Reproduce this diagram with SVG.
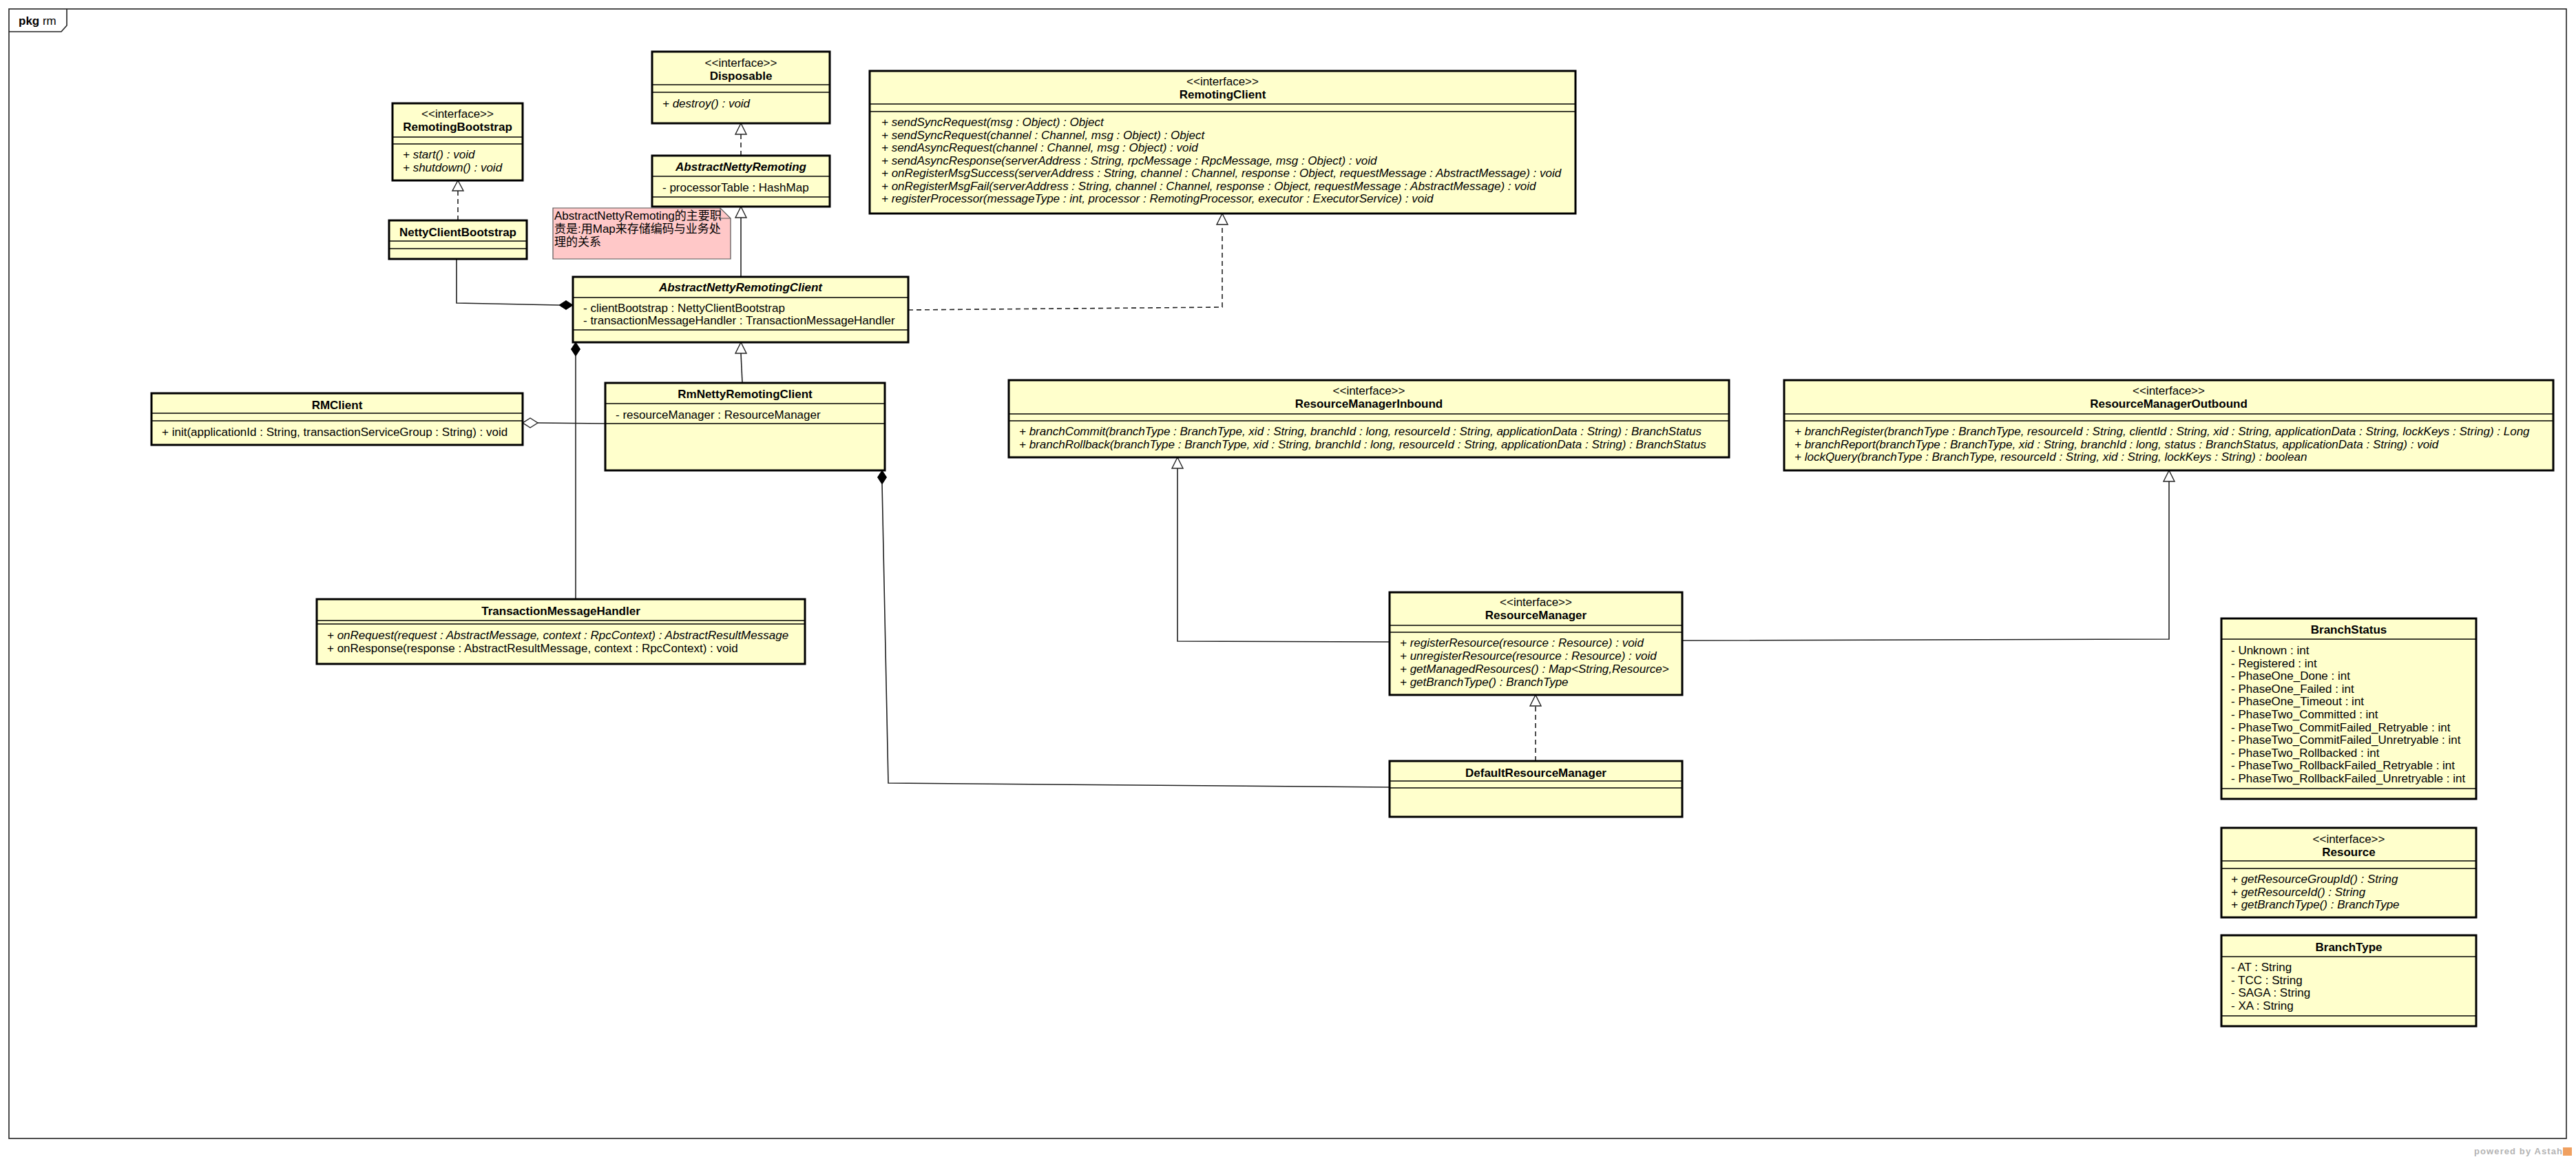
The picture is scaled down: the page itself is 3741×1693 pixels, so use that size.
<svg xmlns="http://www.w3.org/2000/svg" width="3741" height="1693" viewBox="0 0 3741 1693">
<style>
text{font-family:"Liberation Sans","Noto Sans CJK SC",sans-serif;font-size:17px;fill:#000}
.box{fill:#FFFFCC;stroke:#000;stroke-width:3}
.sep{stroke:#000;stroke-width:1.5}
.n{font-weight:bold;text-anchor:middle}
.ni{font-weight:bold;font-style:italic;text-anchor:middle}
.st{text-anchor:middle}
.i{font-style:italic}
.ln{fill:none;stroke:#222;stroke-width:1.6}
.dl{fill:none;stroke:#222;stroke-width:1.6;stroke-dasharray:7 5}
.tri{fill:#fff;stroke:#222;stroke-width:1.4}
.dia{fill:#000;stroke:#000;stroke-width:1}
.hdia{fill:#fff;stroke:#222;stroke-width:1.4}
</style>
<rect width="3741" height="1693" fill="#fff"/>
<g id="frame">
<rect x="13" y="13" width="3714" height="1640" fill="none" stroke="#222" stroke-width="1.6"/>
<path d="M13,46 H89 L97,37 V13" fill="none" stroke="#222" stroke-width="1.6"/>
<text x="27" y="36"><tspan font-weight="bold">pkg</tspan> rm</text>
</g>

<g id="connectors">
<!-- NettyClientBootstrap realizes RemotingBootstrap -->
<path class="dl" d="M665,320 V277"/>
<path class="tri" d="M665,262 L657,277 H673 Z"/>
<!-- AbstractNettyRemoting realizes Disposable -->
<path class="dl" d="M1076,226 V195"/>
<path class="tri" d="M1076,179 L1068,195 H1084 Z"/>
<!-- ANRC extends AbstractNettyRemoting -->
<path class="ln" d="M1076,402 V316"/>
<path class="tri" d="M1076,300 L1068,316 H1084 Z"/>
<!-- RmNetty extends ANRC -->
<path class="ln" d="M1078,556 L1076,513"/>
<path class="tri" d="M1076,497 L1068,513 H1084 Z"/>
<!-- ANRC realizes RemotingClient -->
<path class="dl" d="M1319,450 L1775,446 V326"/>
<path class="tri" d="M1775,310 L1767,326 H1783 Z"/>
<!-- NettyClientBootstrap composition ANRC -->
<path class="ln" d="M663,376 V440 L812,443"/>
<path class="dia" d="M832,443 L822,436.5 L812,443 L822,449.5 Z"/>
<!-- ANRC composition TMH -->
<path class="ln" d="M836,517 V870"/>
<path class="dia" d="M836,497 L842.5,507 L836,517 L829.5,507 Z"/>
<!-- RMClient aggregation RmNetty -->
<path class="ln" d="M781,614 L879,615"/>
<path class="hdia" d="M759,614 L770,607 L781,614 L770,621 Z"/>
<!-- RmNetty composition DefaultResourceManager -->
<path class="ln" d="M1281,703 L1290,1137 L2018,1143"/>
<path class="dia" d="M1281,683 L1287.5,693 L1281,703 L1274.5,693 Z"/>
<!-- ResourceManager extends Inbound -->
<path class="ln" d="M2018,932 L1710,931 V680"/>
<path class="tri" d="M1710,664 L1702,680 H1718 Z"/>
<!-- ResourceManager extends Outbound -->
<path class="ln" d="M2443,930 L3150,928 V699"/>
<path class="tri" d="M3150,683 L3142,699 H3158 Z"/>
<!-- DefaultResourceManager realizes ResourceManager -->
<path class="dl" d="M2230,1105 V1025"/>
<path class="tri" d="M2230,1009 L2222,1025 H2238 Z"/>
</g>

<g id="Disposable">
<rect class="box" x="947" y="75" width="258" height="104"/>
<text class="st" x="1076" y="97">&lt;&lt;interface&gt;&gt;</text>
<text class="n" x="1076" y="116">Disposable</text>
<line class="sep" x1="947" y1="123" x2="1205" y2="123"/>
<line class="sep" x1="947" y1="134" x2="1205" y2="134"/>
<text class="i" x="962" y="156">+ destroy() : void</text>
</g>

<g id="RemotingBootstrap">
<rect class="box" x="570" y="150" width="189" height="112"/>
<text class="st" x="664.5" y="171">&lt;&lt;interface&gt;&gt;</text>
<text class="n" x="664.5" y="190">RemotingBootstrap</text>
<line class="sep" x1="570" y1="199" x2="759" y2="199"/>
<line class="sep" x1="570" y1="209" x2="759" y2="209"/>
<text class="i" x="585" y="230">+ start() : void</text>
<text class="i" x="585" y="249">+ shutdown() : void</text>
</g>

<g id="AbstractNettyRemoting">
<rect class="box" x="947" y="226" width="258" height="74"/>
<text class="ni" x="1076" y="248">AbstractNettyRemoting</text>
<line class="sep" x1="947" y1="256" x2="1205" y2="256"/>
<text x="962" y="278">- processorTable : HashMap</text>
<line class="sep" x1="947" y1="286" x2="1205" y2="286"/>
</g>

<g id="NettyClientBootstrap">
<rect class="box" x="565" y="320" width="200" height="56"/>
<text class="n" x="665" y="343">NettyClientBootstrap</text>
<line class="sep" x1="565" y1="350" x2="765" y2="350"/>
<line class="sep" x1="565" y1="361" x2="765" y2="361"/>
</g>

<g id="note">
<path d="M803,302 H1046 L1061,317 V376 H803 Z" fill="#FFC8C8" stroke="#555" stroke-width="1.2"/>
<path d="M1046,302 V317 H1061" fill="none" stroke="#555" stroke-width="1.2"/>
<text x="805" y="319" font-size="16">AbstractNettyRemoting的主要职</text>
<text x="805" y="338" font-size="16">责是:用Map来存储编码与业务处</text>
<text x="805" y="357" font-size="16">理的关系</text>
</g>

<g id="RemotingClient">
<rect class="box" x="1263" y="103" width="1025" height="207"/>
<text class="st" x="1775.5" y="124">&lt;&lt;interface&gt;&gt;</text>
<text class="n" x="1775.5" y="143">RemotingClient</text>
<line class="sep" x1="1263" y1="151" x2="2288" y2="151"/>
<line class="sep" x1="1263" y1="162" x2="2288" y2="162"/>
<text class="i" x="1280" y="183">+ sendSyncRequest(msg : Object) : Object</text>
<text class="i" x="1280" y="201.5">+ sendSyncRequest(channel : Channel, msg : Object) : Object</text>
<text class="i" x="1280" y="220">+ sendAsyncRequest(channel : Channel, msg : Object) : void</text>
<text class="i" x="1280" y="238.5">+ sendAsyncResponse(serverAddress : String, rpcMessage : RpcMessage, msg : Object) : void</text>
<text class="i" x="1280" y="257">+ onRegisterMsgSuccess(serverAddress : String, channel : Channel, response : Object, requestMessage : AbstractMessage) : void</text>
<text class="i" x="1280" y="275.5">+ onRegisterMsgFail(serverAddress : String, channel : Channel, response : Object, requestMessage : AbstractMessage) : void</text>
<text class="i" x="1280" y="294">+ registerProcessor(messageType : int, processor : RemotingProcessor, executor : ExecutorService) : void</text>
</g>

<g id="AbstractNettyRemotingClient">
<rect class="box" x="832" y="402" width="487" height="95"/>
<text class="ni" x="1075.5" y="423">AbstractNettyRemotingClient</text>
<line class="sep" x1="832" y1="432" x2="1319" y2="432"/>
<text x="847" y="453">- clientBootstrap : NettyClientBootstrap</text>
<text x="847" y="471">- transactionMessageHandler : TransactionMessageHandler</text>
<line class="sep" x1="832" y1="479" x2="1319" y2="479"/>
</g>

<g id="RmNettyRemotingClient">
<rect class="box" x="879" y="556" width="406" height="127"/>
<text class="n" x="1082" y="578">RmNettyRemotingClient</text>
<line class="sep" x1="879" y1="586" x2="1285" y2="586"/>
<text x="894" y="608">- resourceManager : ResourceManager</text>
<line class="sep" x1="879" y1="615" x2="1285" y2="615"/>
</g>

<g id="RMClient">
<rect class="box" x="220" y="571" width="539" height="75"/>
<text class="n" x="489.5" y="594">RMClient</text>
<line class="sep" x1="220" y1="600" x2="759" y2="600"/>
<line class="sep" x1="220" y1="611" x2="759" y2="611"/>
<text x="235" y="633">+ init(applicationId : String, transactionServiceGroup : String) : void</text>
</g>

<g id="TransactionMessageHandler">
<rect class="box" x="460" y="870" width="709" height="94"/>
<text class="n" x="814.5" y="893">TransactionMessageHandler</text>
<line class="sep" x1="460" y1="901" x2="1169" y2="901"/>
<line class="sep" x1="460" y1="906" x2="1169" y2="906"/>
<text class="i" x="475" y="928">+ onRequest(request : AbstractMessage, context : RpcContext) : AbstractResultMessage</text>
<text x="475" y="947">+ onResponse(response : AbstractResultMessage, context : RpcContext) : void</text>
</g>

<g id="ResourceManagerInbound">
<rect class="box" x="1465" y="552" width="1046" height="112"/>
<text class="st" x="1988" y="573">&lt;&lt;interface&gt;&gt;</text>
<text class="n" x="1988" y="592">ResourceManagerInbound</text>
<line class="sep" x1="1465" y1="601" x2="2511" y2="601"/>
<line class="sep" x1="1465" y1="611" x2="2511" y2="611"/>
<text class="i" x="1480" y="632">+ branchCommit(branchType : BranchType, xid : String, branchId : long, resourceId : String, applicationData : String) : BranchStatus</text>
<text class="i" x="1480" y="651">+ branchRollback(branchType : BranchType, xid : String, branchId : long, resourceId : String, applicationData : String) : BranchStatus</text>
</g>

<g id="ResourceManagerOutbound">
<rect class="box" x="2591" y="552" width="1117" height="131"/>
<text class="st" x="3149.5" y="573">&lt;&lt;interface&gt;&gt;</text>
<text class="n" x="3149.5" y="592">ResourceManagerOutbound</text>
<line class="sep" x1="2591" y1="601" x2="3708" y2="601"/>
<line class="sep" x1="2591" y1="611" x2="3708" y2="611"/>
<text class="i" x="2606" y="632">+ branchRegister(branchType : BranchType, resourceId : String, clientId : String, xid : String, applicationData : String, lockKeys : String) : Long</text>
<text class="i" x="2606" y="650.5">+ branchReport(branchType : BranchType, xid : String, branchId : long, status : BranchStatus, applicationData : String) : void</text>
<text class="i" x="2606" y="669">+ lockQuery(branchType : BranchType, resourceId : String, xid : String, lockKeys : String) : boolean</text>
</g>

<g id="ResourceManager">
<rect class="box" x="2018" y="860" width="425" height="149"/>
<text class="st" x="2230.5" y="880">&lt;&lt;interface&gt;&gt;</text>
<text class="n" x="2230.5" y="899">ResourceManager</text>
<line class="sep" x1="2018" y1="908" x2="2443" y2="908"/>
<line class="sep" x1="2018" y1="918" x2="2443" y2="918"/>
<text class="i" x="2033" y="939">+ registerResource(resource : Resource) : void</text>
<text class="i" x="2033" y="958">+ unregisterResource(resource : Resource) : void</text>
<text class="i" x="2033" y="977">+ getManagedResources() : Map&lt;String,Resource&gt;</text>
<text class="i" x="2033" y="996">+ getBranchType() : BranchType</text>
</g>

<g id="DefaultResourceManager">
<rect class="box" x="2018" y="1105" width="425" height="81"/>
<text class="n" x="2230.5" y="1128">DefaultResourceManager</text>
<line class="sep" x1="2018" y1="1134" x2="2443" y2="1134"/>
<line class="sep" x1="2018" y1="1144" x2="2443" y2="1144"/>
</g>

<g id="BranchStatus">
<rect class="box" x="3226" y="898" width="370" height="262"/>
<text class="n" x="3411" y="920">BranchStatus</text>
<line class="sep" x1="3226" y1="928" x2="3596" y2="928"/>
<text x="3240" y="950">- Unknown : int</text>
<text x="3240" y="968.6">- Registered : int</text>
<text x="3240" y="987.2">- PhaseOne_Done : int</text>
<text x="3240" y="1005.8">- PhaseOne_Failed : int</text>
<text x="3240" y="1024.4">- PhaseOne_Timeout : int</text>
<text x="3240" y="1043">- PhaseTwo_Committed : int</text>
<text x="3240" y="1061.6">- PhaseTwo_CommitFailed_Retryable : int</text>
<text x="3240" y="1080.2">- PhaseTwo_CommitFailed_Unretryable : int</text>
<text x="3240" y="1098.8">- PhaseTwo_Rollbacked : int</text>
<text x="3240" y="1117.4">- PhaseTwo_RollbackFailed_Retryable : int</text>
<text x="3240" y="1136">- PhaseTwo_RollbackFailed_Unretryable : int</text>
<line class="sep" x1="3226" y1="1145" x2="3596" y2="1145"/>
</g>

<g id="Resource">
<rect class="box" x="3226" y="1202" width="370" height="130"/>
<text class="st" x="3411" y="1224">&lt;&lt;interface&gt;&gt;</text>
<text class="n" x="3411" y="1243">Resource</text>
<line class="sep" x1="3226" y1="1250" x2="3596" y2="1250"/>
<line class="sep" x1="3226" y1="1261" x2="3596" y2="1261"/>
<text class="i" x="3240" y="1282">+ getResourceGroupId() : String</text>
<text class="i" x="3240" y="1300.5">+ getResourceId() : String</text>
<text class="i" x="3240" y="1319">+ getBranchType() : BranchType</text>
</g>

<g id="BranchType">
<rect class="box" x="3226" y="1358" width="370" height="132"/>
<text class="n" x="3411" y="1381">BranchType</text>
<line class="sep" x1="3226" y1="1389" x2="3596" y2="1389"/>
<text x="3240" y="1410">- AT : String</text>
<text x="3240" y="1428.5">- TCC : String</text>
<text x="3240" y="1447">- SAGA : String</text>
<text x="3240" y="1465.5">- XA : String</text>
<line class="sep" x1="3226" y1="1475" x2="3596" y2="1475"/>
</g>

<g id="watermark">
<text x="3593" y="1676" font-size="13" font-weight="bold" fill="#B4B4B4" style="fill:#B4B4B4;font-size:13px" textLength="128">powered by Astah</text>
<rect x="3722" y="1666" width="13" height="12" fill="#F0A060"/>
</g>
</svg>
